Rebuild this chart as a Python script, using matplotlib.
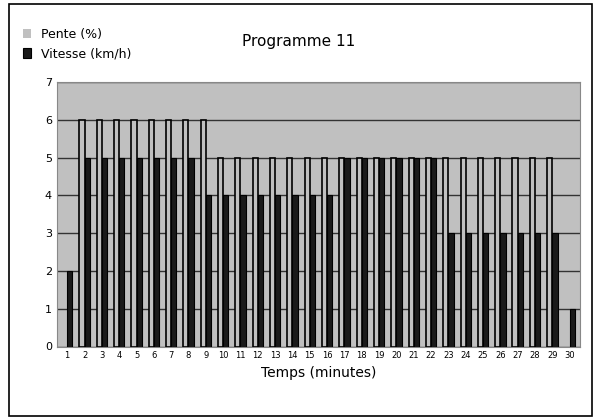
import matplotlib
matplotlib.use("Agg")
import matplotlib.pyplot as plt
import numpy as np

minutes = list(range(1, 31))
pente = [0] + [6]*8 + [5]*20 + [0]
vitesse = [2] + [5]*7 + [4]*8 + [5]*6 + [3]*7 + [1]

fig = plt.figure(figsize=(5.98, 4.2), dpi=100)
fig.patch.set_facecolor("white")
ax = fig.add_axes([0.095, 0.175, 0.875, 0.63])
ax.set_facecolor("#c0c0c0")
x = np.arange(len(minutes))
w = 0.3
lw_p = [1.2 if v > 0 else 0 for v in pente]
ax.bar(x - w/2, pente, w, color="#c0c0c0", edgecolor="black", linewidth=lw_p, label="Pente (%)", zorder=3)
ax.bar(x + w/2, vitesse, w, color="#1a1a1a", edgecolor="black", linewidth=0.8, label="Vitesse (km/h)", zorder=3)
ax.set_ylim(0, 7)
ax.set_xlim(-0.6, len(minutes) - 0.4)
ax.set_yticks(range(8))
ax.set_xticks(x)
ax.set_xticklabels([str(m) for m in minutes], fontsize=6)
ax.tick_params(axis="y", labelsize=8, length=0)
ax.tick_params(axis="x", length=0)
ax.yaxis.grid(True, color="#333333", linewidth=1.0, zorder=0)
ax.set_axisbelow(True)
for s in ax.spines.values():
    s.set_color("#888888")
ax.set_xlabel("Temps (minutes)", fontsize=10)
fig.text(0.5, 0.89, "Programme 11", fontsize=11, ha="center")
h, l = ax.get_legend_handles_labels()
fig.legend(h, l, loc="upper left", bbox_to_anchor=(0.02, 0.96), frameon=False, fontsize=9, handlelength=0.6, handleheight=0.8)
fig.add_artist(plt.Rectangle((0.015, 0.01), 0.975, 0.98, transform=fig.transFigure, fill=False, edgecolor="black", linewidth=1.2))
fig.savefig("out.png", dpi=100)
